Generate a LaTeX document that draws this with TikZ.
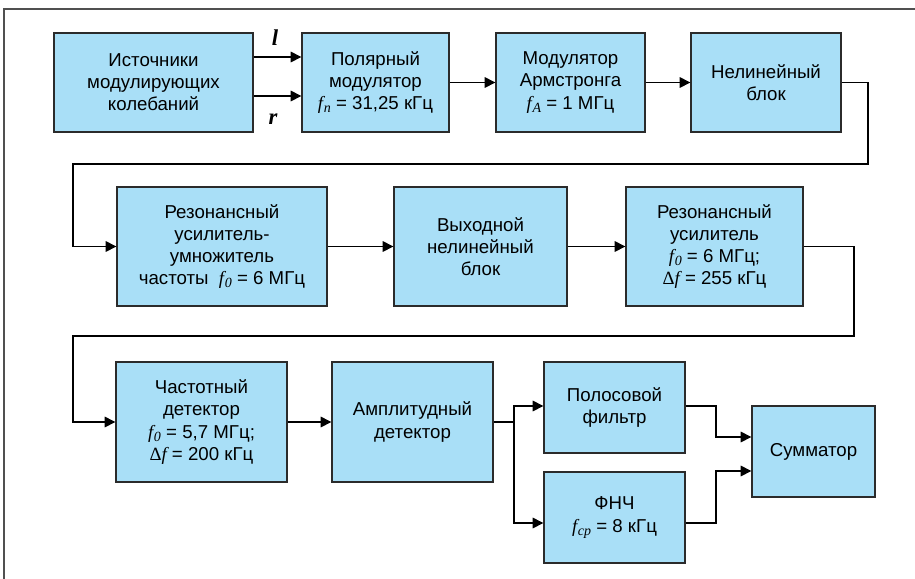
\documentclass[tikz,border=0pt]{standalone}
\usepackage{fontspec}
\setmainfont{Liberation Sans}
\newfontfamily\tmsfont{Liberation Serif}
\usetikzlibrary{arrows.meta,calc}
\definecolor{boxc}{HTML}{A9DFF7}
\definecolor{bordc}{HTML}{2B2B2B}
\definecolor{framec}{HTML}{505050}
\newcommand\fvar[1]{{\tmsfont\itshape f\kern0.04em\raisebox{-0.35ex}{\fontsize{10.5}{10.5}\selectfont #1}}}
\newcommand\dltf{{\tmsfont Δ\itshape f}}
\tikzset{
  blk/.style={draw=bordc, line width=1pt, fill=boxc, align=center, inner sep=0pt,
    font=\fontsize{14}{16.6}\selectfont},
  arr/.style={draw=black, line width=0.9pt, -{Triangle[length=8pt,width=8pt]}},
  ln/.style={draw=black, line width=0.9pt},
  lbl/.style={font=\fontsize{17}{17}\selectfont\tmsfont\bfseries\itshape}
}
\begin{document}
\begin{tikzpicture}[x=0.75pt,y=-0.75pt]
\useasboundingbox (0,0) rectangle (915,579);
\draw[framec, line width=1.6pt] (4,579) -- (4,9) -- (915,9);
% row 1
\node[blk, minimum width=149.25pt, minimum height=74.25pt] (src) at (153.5,82.5) {Источники\\модулирующих\\колебаний};
\node[blk, minimum width=110.25pt, minimum height=74.25pt] (pol) at (375.5,82.5) {Полярный\\модулятор\\\fvar{n} = 31,25 кГц};
\node[blk, minimum width=111.75pt, minimum height=74.25pt] (arm) at (570.5,82.5) {Модулятор\\Армстронга\\\fvar{A} = 1 МГц};
\node[blk, minimum width=112.5pt, minimum height=74.25pt] (nl) at (766,82.5) {Нелинейный\\блок};
% row 2
\node[blk, minimum width=157.5pt, minimum height=89.25pt] (res1) at (222,246.5) {Резонансный\\усилитель-\\умножитель\\частоты\ \ \fvar{0} = 6 МГц};
\node[blk, minimum width=129.75pt, minimum height=89.25pt] (vykh) at (480.5,246.5) {Выходной\\нелинейный\\блок};
\node[blk, minimum width=132.75pt, minimum height=89.25pt] (res2) at (714.5,246.5) {Резонансный\\усилитель\\\fvar{0} = 6 МГц;\\\dltf\ = 255 кГц};
% row 3
\node[blk, minimum width=128.25pt, minimum height=90pt] (chd) at (201.5,422) {Частотный\\детектор\\\fvar{0} = 5,7 МГц;\\\dltf\ = 200 кГц};
\node[blk, minimum width=120.75pt, minimum height=90pt] (amd) at (412.5,422) {Амплитудный\\детектор};
\node[blk, minimum width=105.75pt, minimum height=68.25pt] (pf) at (614.5,407.5) {Полосовой\\фильтр};
\node[blk, minimum width=105.75pt, minimum height=68.25pt] (fnch) at (614.5,517.5) {ФНЧ\\\fvar{ср} = 8 кГц};
\node[blk, minimum width=92.25pt, minimum height=68.25pt] (sum) at (813.5,451.5) {Сумматор};
% labels
\node[lbl] (ll) at (275,38) {l};
\node[lbl] (lr) at (273,119) {r};
% connectors
\coordinate (yl) at (0,57);
\coordinate (yr) at (0,96);
\draw[arr] (src.east|-yl) -- (pol.west|-yl);
\draw[arr] (src.east|-yr) -- (pol.west|-yr);
\draw[arr] (pol) -- (arm);
\draw[arr] (arm) -- (nl);
\coordinate (k1) at (868,164);
\coordinate (k2) at (73,164);
\draw[arr] (nl.east) -| (k1) -- (k2) |- (res1.west);
\draw[arr] (res1) -- (vykh);
\draw[arr] (vykh) -- (res2);
\coordinate (k3) at (854,336);
\coordinate (k4) at (73,336);
\draw[arr] (res2.east) -| (k3) -- (k4) |- (chd.west);
\draw[arr] (chd) -- (amd);
\coordinate (br) at (514,422);
\coordinate (pfin) at ($(pf.west)+(0,-1.5)$);
\coordinate (fnin) at ($(fnch.west)+(0,5.5)$);
\draw[ln] (amd.east) -- (br);
\draw[arr] (br) |- (pfin);
\draw[arr] (br) |- (fnin);
\coordinate (m1) at (716,0);
\coordinate (s1) at ($(sum.west)+(0,-14.5)$);
\coordinate (s2) at ($(sum.west)+(0,19.5)$);
\draw[arr] (pfin-|pf.east) -- (pfin-|m1) |- (s1);
\draw[arr] (fnin-|fnch.east) -- (fnin-|m1) |- (s2);
\end{tikzpicture}
\end{document}
